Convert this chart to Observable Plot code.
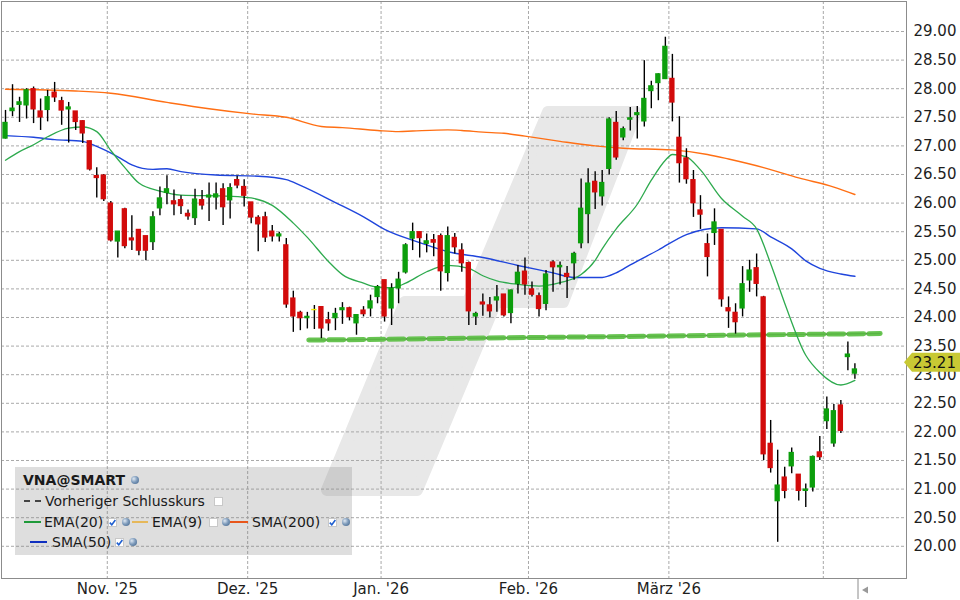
<!DOCTYPE html>
<html>
<head>
<meta charset="utf-8">
<script src="https://cdn.jsdelivr.net/npm/d3@7"></script>
<script src="https://cdn.jsdelivr.net/npm/@observablehq/plot@0.6"></script>
<style>
  body { margin: 0; background: #fff; }
  #wrap { position: relative; width: 960px; height: 600px; font-family: "DejaVu Sans", Verdana, sans-serif; overflow: hidden; }
  #wrap svg.plot { position: absolute; left: 0; top: 0; }
  #legendBox { position: absolute; left: 15px; top: 467px; width: 337px; height: 88px; background: rgba(128,128,128,0.26); }
  .lt { position: absolute; font-size: 14px; line-height: 16px; color: #1a1a1a; white-space: nowrap; }
  .lt.b { font-weight: bold; }
  .ls { position: absolute; height: 0; }
  .cb { position: absolute; width: 7px; height: 7px; background: #fff; border: 1px solid #c8c8c8; }
  .ic { position: absolute; width: 8px; height: 8px; border-radius: 50%; background: radial-gradient(circle at 35% 35%, #dfe8f2 0, #7f9cbc 45%, #3d5f86 100%); }
</style>
</head>
<body>
<div id="wrap"></div>
<script>
// ---------------- data ----------------
// trading-day index 0 = 13 Oct 2025 ... 121 = 9 Apr 2026
const open = [27.13,27.61,27.72,27.71,27.99,27.60,27.63,27.93,27.78,27.64,
  27.60,27.43,27.08,26.47,26.48,25.99,25.33,25.89,25.38,25.53,
  25.42,25.32,25.91,26.18,26.03,26.05,25.81,25.74,26.05,26.10,
  26.10,26.24,26.05,26.40,26.28,26.01,25.74,25.75,25.50,25.42,
  25.26,24.33,24.08,23.99,24.13,24.18,23.95,23.99,24.13,24.16,
  23.90,24.12,24.16,24.36,24.65,24.16,24.51,24.79,25.38,25.49,
  25.29,25.35,25.42,24.78,25.39,25.17,24.95,24.02,24.26,24.21,
  24.30,24.40,24.08,24.59,24.80,24.49,24.37,24.24,24.96,24.88,
  24.76,24.95,25.30,25.81,26.37,26.12,26.60,27.40,27.15,27.46,
  27.54,27.43,27.96,28.10,28.17,28.17,27.14,26.78,26.40,25.87,
  25.28,25.48,25.53,24.16,24.08,24.16,24.65,24.86,24.35,21.79,
  20.79,21.20,21.40,21.25,20.97,21.03,21.64,22.19,21.80,22.46,
  23.31,23.02];
const high = [27.62,28.07,27.85,28.00,28.03,27.82,27.97,28.11,27.85,27.76,
  27.60,27.44,27.08,26.62,26.50,26.03,25.50,25.91,25.78,25.53,
  25.42,25.85,26.28,26.48,26.23,26.13,25.88,26.24,26.22,26.35,
  26.35,26.34,26.34,26.47,26.41,26.01,25.78,25.84,25.61,25.49,
  25.38,24.46,24.11,24.09,24.21,24.19,24.09,24.16,24.26,24.18,
  24.04,24.19,24.39,24.56,24.65,24.59,24.79,25.29,25.65,25.49,
  25.46,25.45,25.46,25.58,25.47,25.29,24.97,24.09,24.41,24.35,
  24.56,24.40,24.48,24.91,25.04,24.62,24.43,24.82,24.99,24.97,
  24.89,25.14,26.42,26.60,26.55,26.57,27.49,27.60,27.33,27.67,
  27.69,28.49,28.13,28.26,28.90,28.60,27.51,26.95,26.57,26.13,
  25.46,25.90,25.53,24.36,24.24,24.89,25.00,25.11,24.37,22.20,
  21.68,21.38,21.72,21.25,21.09,21.58,21.92,22.61,22.48,22.55,
  23.57,23.19];
const low = [27.12,27.51,27.41,27.47,27.39,27.27,27.42,27.76,27.36,27.05,
  27.27,27.04,26.56,26.09,26.03,25.32,25.04,25.20,25.17,25.08,
  24.99,25.17,25.78,25.97,25.78,25.80,25.70,25.61,25.88,25.68,
  25.88,25.61,25.72,26.25,25.93,25.64,25.15,25.31,25.32,25.32,
  24.16,23.74,23.77,23.80,23.79,23.63,23.76,23.77,23.88,23.94,
  23.69,24.01,24.01,24.24,23.92,23.86,24.24,24.76,25.17,25.04,
  25.13,25.06,24.46,24.62,25.11,24.79,23.86,23.86,24.02,23.99,
  24.09,24.01,23.89,24.41,24.39,24.36,24.01,24.12,24.44,24.57,
  24.33,24.65,25.20,25.29,25.89,25.95,26.49,26.75,27.09,27.26,
  27.12,27.33,27.65,27.79,28.16,27.42,26.35,26.33,25.75,25.54,
  24.71,25.26,24.18,23.81,23.71,24.01,24.44,24.36,21.50,21.28,
  20.07,20.83,21.27,20.79,20.68,20.95,21.50,22.04,21.73,21.97,
  23.07,22.92];
const close = [27.40,27.65,27.76,27.97,27.64,27.50,27.85,27.85,27.62,27.67,
  27.42,27.22,26.59,26.44,26.07,25.35,25.50,25.25,25.35,25.17,
  25.17,25.75,26.08,26.24,25.98,25.95,25.77,26.06,25.96,26.13,
  26.15,25.93,26.26,26.31,26.13,25.75,25.63,25.40,25.42,25.45,
  24.23,24.02,23.99,24.01,24.13,23.81,23.90,24.06,24.16,24.01,
  24.04,24.06,24.28,24.53,24.02,24.50,24.66,25.26,25.49,25.39,
  25.33,25.31,24.81,25.42,25.23,24.95,24.11,24.06,24.23,24.11,
  24.35,24.04,24.47,24.78,24.58,24.40,24.15,24.75,24.88,24.90,
  24.71,25.11,25.90,26.34,26.19,26.35,27.46,26.80,27.29,27.48,
  27.57,27.82,28.04,28.25,28.73,27.76,26.70,26.42,26.00,25.80,
  25.06,25.66,24.32,24.11,23.92,24.58,24.82,24.59,21.61,21.37,
  21.06,20.97,21.63,20.97,20.99,21.56,21.56,22.39,22.36,22.02,
  23.35,23.09];

// moving averages read at selected trading days
const emaIdx = [0,2,4,6,9,11,13,15,17,19,22,25,32,35,38,41,43,46,48,51,53,55,57,60,63,66,68,70,73,76,79,82,84,85,87,90,92,94,95,97,99,102,105,107,109,111,114,116,119,121];
const ema20  = [26.75,26.90,27.02,27.16,27.31,27.33,27.25,26.92,26.62,26.35,26.21,26.14,26.12,26.09,25.96,25.65,25.40,24.98,24.75,24.60,24.53,24.52,24.60,24.80,24.91,24.86,24.73,24.64,24.58,24.55,24.61,24.75,25.00,25.20,25.55,25.98,26.40,26.75,26.85,26.81,26.58,26.08,25.77,25.55,24.94,24.25,23.34,23.04,22.82,22.90];
const sma50Idx = [0,4,7,11,13,16,18,21,23,25,30,36,40,42,47,51,54,59,63,68,73,78,81,85,87,89,93,97,102,107,109,112,114,116,119,121];
const sma50    = [27.18,27.15,27.11,27.08,26.99,26.81,26.67,26.59,26.60,26.55,26.49,26.47,26.41,26.31,26.01,25.76,25.54,25.31,25.15,25.05,24.91,24.78,24.70,24.70,24.78,24.92,25.18,25.45,25.57,25.55,25.41,25.20,24.99,24.86,24.76,24.72];
const sma200Idx = [0,10,15,23,29,35,40,45,48,53,56,58,63,65,68,71,74,79,84,88,95,100,103,108,113,118,121];
const sma200    = [27.99,27.96,27.92,27.76,27.65,27.56,27.50,27.34,27.32,27.27,27.25,27.26,27.28,27.27,27.24,27.22,27.17,27.08,27.00,26.96,26.93,26.85,26.77,26.62,26.44,26.28,26.15];

// support trendline (start/end trading day, price)
const trendIdx = [43.2, 124.6];
const trendVal = [23.605, 23.72];

const lastPrice = 23.21;

// month boundaries (between trading days) and labels
const monthPos    = [14.5, 34.5, 53.5, 74.5, 94.5, 116.5];
const monthLabels = ["Nov. '25", "Dez. '25", "Jan. '26", "Feb. '26", "März '26", ""];
const yTicks = d3.range(20, 29.001, 0.5);

// ---------------- build ----------------
const candles = open.map((o, i) => ({i, open: o, high: high[i], low: low[i], close: close[i]}));
const ups = candles.filter(d => d.close > d.open);
const downs = candles.filter(d => d.close < d.open);
const flats = candles.filter(d => d.close === d.open);
const toPts = (idx, vals) => idx.map((i, k) => ({i, v: vals[k]}));
const emaPts = toPts(emaIdx, ema20);
const s50Pts = toPts(sma50Idx, sma50);
const s200Pts = toPts(sma200Idx, sma200);
const trendPts = toPts(trendIdx, trendVal);

const gridStyle = {stroke: "#a9a9a9", strokeOpacity: 1, strokeWidth: 1, strokeDasharray: "3,2"};
const bodyOpts = (fill) => ({x1: d => d.i - 0.38, x2: d => d.i + 0.38, y1: "open", y2: "close", fill, insetTop: -0.7, insetBottom: -0.7});

const chart = Plot.plot({
  width: 960, height: 600,
  marginLeft: 1, marginRight: 54, marginTop: 1, marginBottom: 22,
  x: {type: "linear", domain: [-0.57, 128.35]},
  y: {domain: [19.437, 29.5245]},
  style: {fontFamily: "'DejaVu Sans', Verdana, sans-serif", fontSize: "15px", color: "#1e1e1e", background: "transparent", overflow: "visible"},
  marks: [
    Plot.gridY(yTicks, gridStyle),
    Plot.gridX(monthPos, gridStyle),
    Plot.line(trendPts, {x: "i", y: "v", stroke: "#2b2b2b", strokeWidth: 1.4}),
    Plot.line(trendPts, {x: "i", y: "v", stroke: "#5dbf45", strokeOpacity: 0.93, strokeWidth: 5, strokeDasharray: "15,5"}),
    Plot.line(s200Pts, {x: "i", y: "v", stroke: "#ff6f14", strokeWidth: 1.4, curve: "monotone-x"}),
    Plot.line(s50Pts, {x: "i", y: "v", stroke: "#1f45dc", strokeWidth: 1.4, curve: "monotone-x"}),
    Plot.line(emaPts, {x: "i", y: "v", stroke: "#2eaa4e", strokeWidth: 1.3, curve: "monotone-x"}),
    Plot.ruleX(candles, {x: "i", y1: "low", y2: "high", stroke: "#000", strokeWidth: 1.4}),
    Plot.rect(ups, bodyOpts("#0c9e0c")),
    Plot.rect(downs, bodyOpts("#d20b0b")),
    Plot.rect(flats, bodyOpts("#f0e800")),
    Plot.frame({stroke: "#8c8c8c"}),
    Plot.axisY(yTicks, {anchor: "right", tickSize: 0, tickPadding: 7, tickFormat: d => d.toFixed(2), fontSize: 15, label: null}),
    Plot.axisX(monthPos, {anchor: "bottom", tickSize: 0, tickPadding: 5, tickFormat: d => monthLabels[monthPos.indexOf(d)], fontSize: 15, label: null})
  ]
});
chart.classList.add("plot");
document.getElementById("wrap").appendChild(chart);

// decoration: watermark behind everything
const svg = d3.select(chart);
svg.insert("path", ":first-child")
  .attr("d", "M548,112 L636,112 L563,302 L496,302 L417,490 L327,490 L405,302 L468,302 Z")
  .attr("fill", "#e8e8e8").attr("stroke", "#e8e8e8").attr("stroke-width", 12).attr("stroke-linejoin", "round");

// last price tag on the right axis
const yLast = chart.scale("y").apply(lastPrice);
const tag = svg.append("g");
tag.append("path")
  .attr("d", `M904,${yLast} L912,${yLast - 9.5} L960,${yLast - 9.5} L960,${yLast + 9.5} L912,${yLast + 9.5} Z`)
  .attr("fill", "#c8c934");
tag.append("text").attr("x", 913).attr("y", yLast).attr("dy", "0.36em")
  .attr("text-anchor", "start")
  .attr("font-size", 15).attr("fill", "#111").text(lastPrice.toFixed(2));

// scroll handle at the bottom right
svg.append("line").attr("x1", 858).attr("x2", 858).attr("y1", 578).attr("y2", 599).attr("stroke", "#8c8c8c");
svg.append("path").attr("d", "M862,590 L868,586.5 L868,593.5 Z").attr("fill", "#999");

// ---------------- legend ----------------
const wrap = document.getElementById("wrap");
const box = document.createElement("div"); box.id = "legendBox"; wrap.appendChild(box);
function txt(x, cy, s, bold) { const e = document.createElement("div"); e.className = "lt" + (bold ? " b" : ""); e.style.left = x + "px"; e.style.top = (cy - 8) + "px"; e.textContent = s; wrap.appendChild(e); }
function seg(x1, x2, cy, color, dashed) { const e = document.createElement("div"); e.className = "ls"; e.style.left = x1 + "px"; e.style.top = (cy - 1) + "px"; e.style.width = (x2 - x1) + "px"; e.style.borderTop = "2px " + (dashed ? "dashed " : "solid ") + color; wrap.appendChild(e); }
function cbx(x, cy, checked) {
  const e = document.createElement("div"); e.className = "cb"; e.style.left = x + "px"; e.style.top = (cy - 4) + "px";
  if (checked) e.innerHTML = '<svg width="7" height="7" style="position:absolute;left:0;top:0"><path d="M0.8,3.6 L2.8,5.8 L6.4,1" stroke="#1f5fd0" stroke-width="1.6" fill="none"/></svg>';
  wrap.appendChild(e);
}
function ico(x, cy) { const e = document.createElement("div"); e.className = "ic"; e.style.left = x + "px"; e.style.top = (cy - 4) + "px"; wrap.appendChild(e); }

txt(23, 480, "VNA@SMART", true); ico(131, 480);
seg(24, 41, 501, "#444", true); txt(45, 501, "Vorheriger Schlusskurs"); cbx(214, 501, false);
seg(24, 41, 522, "#1f9a3a"); txt(44, 522, "EMA(20)"); cbx(108, 522, true); ico(122, 522);
seg(132, 148, 522, "#e6b85a"); txt(152, 522, "EMA(9)"); cbx(209, 522, false); ico(222, 522);
seg(230, 248, 522, "#e8561a"); txt(252, 522, "SMA(200)"); cbx(328, 522, true); ico(342, 522);
seg(30, 47, 542, "#1030c0"); txt(52, 542, "SMA(50)"); cbx(115, 542, true); ico(129, 542);
</script>
</body>
</html>
